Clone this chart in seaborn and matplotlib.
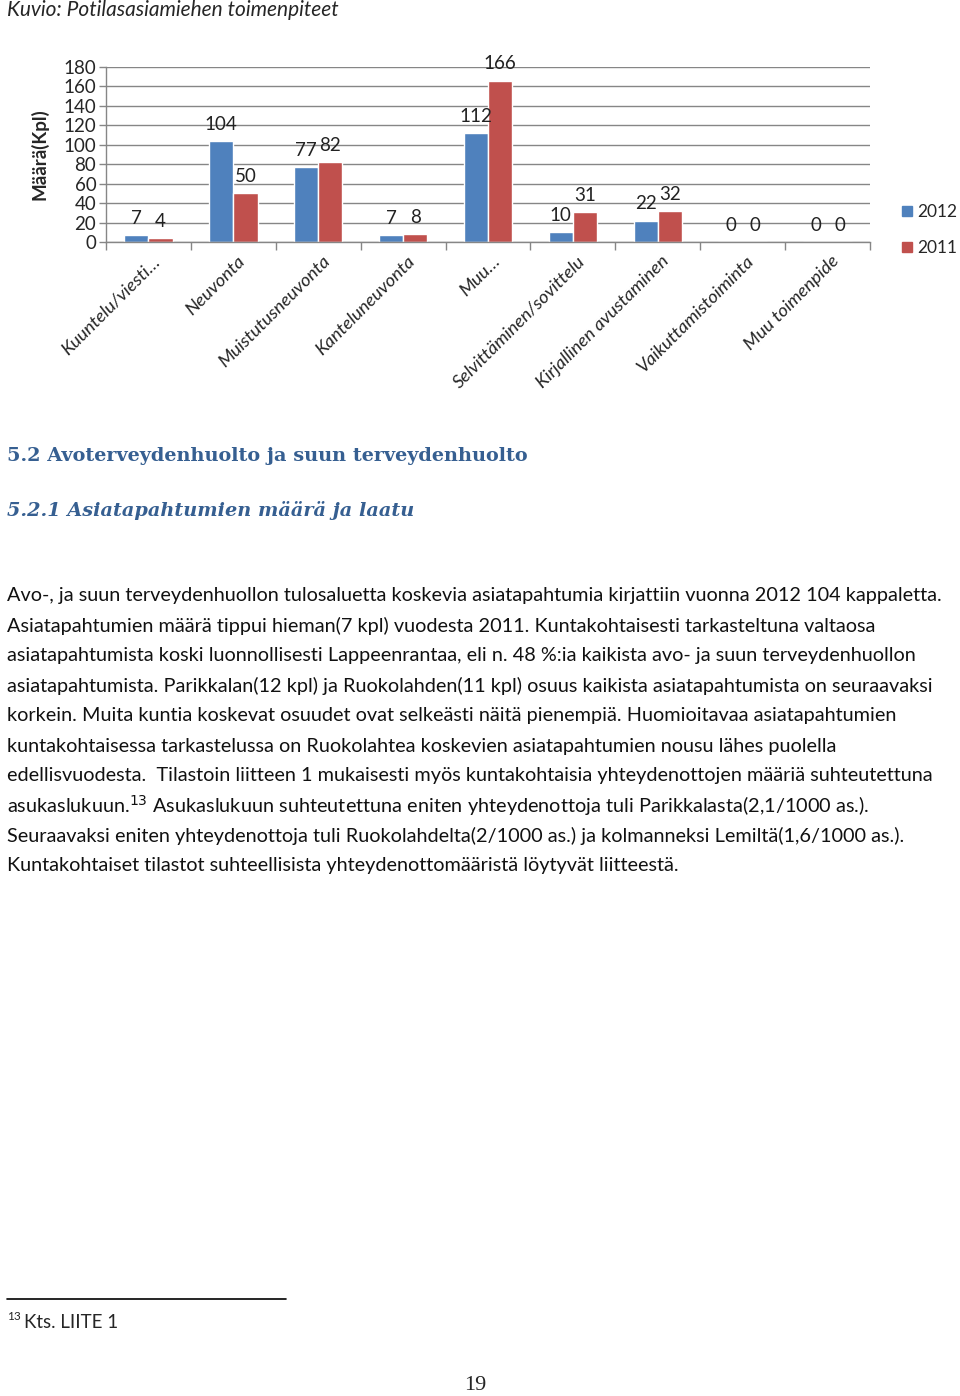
import pandas as pd
import seaborn as sns
import matplotlib.pyplot as plt
import matplotlib.transforms as mtransforms
from matplotlib.lines import Line2D

sns.set_style('white')
plt.rcParams['font.family'] = ['Lato', 'DejaVu Sans']

#%% data

kategoriat = ['Kuuntelu/viesti…', 'Neuvonta', 'Muistutusneuvonta', 'Kanteluneuvonta',
              'Muu…', 'Selvittäminen/sovittelu', 'Kirjallinen avustaminen',
              'Vaikuttamistoiminta', 'Muu toimenpide']
v2012 = [7, 104, 77, 7, 112, 10, 22, 0, 0]
v2011 = [4, 50, 82, 8, 166, 31, 32, 0, 0]
vuodet = ['2012', '2011']
y_ticks = [0, 20, 40, 60, 80, 100, 120, 140, 160, 180]

df = pd.DataFrame({'kategoria': kategoriat * 2,
                   'vuosi': [vuodet[0]] * len(v2012) + [vuodet[1]] * len(v2011),
                   'maara': v2012 + v2011})

W, H = 960, 1396
fig = plt.figure(figsize=(W / 100, H / 100), dpi=100)

def fy(y):
    return 1 - y / H

def fx(x):
    return x / W

#%% chart
ax = fig.add_axes([fx(106), fy(242), fx(870) - fx(106), fy(67) - fy(242)])
sns.barplot(data=df, x='kategoria', y='maara', hue='vuosi',
            palette=['#4F81BD', '#C0504D'], saturation=1, width=0.57,
            ax=ax, legend=False)

for cont in ax.containers:
    ax.bar_label(cont, padding=6, fontsize=13.5, color='#222222')

ax.set_ylim(0, 180)
ax.set_xlim(-0.5, len(kategoriat) - 0.5)
ax.set_yticks(y_ticks)
ax.tick_params(axis='y', labelsize=13.5, length=5, width=1, color='#868686',
               pad=2, direction='out', left=True)
ax.yaxis.grid(True, color='#868686', lw=1)
ax.set_axisbelow(True)
for s in ['top', 'right']:
    ax.spines[s].set_visible(False)
for s in ['left', 'bottom']:
    ax.spines[s].set_color('#868686')
    ax.spines[s].set_linewidth(1)

# category boundary ticks
ax.set_xticks([i - 0.5 for i in range(len(kategoriat) + 1)], minor=True)
ax.tick_params(axis='x', which='minor', length=6, color='#868686', width=1, bottom=True)
ax.tick_params(axis='x', which='major', length=0, pad=12)
ax.set_xticks(range(len(kategoriat)))
ax.set_xticklabels(kategoriat, rotation=45, ha='right', va='center',
                   rotation_mode='anchor', fontsize=13.3, style='italic')
offset = mtransforms.ScaledTranslation(9 / 100, 0, fig.dpi_scale_trans)
for lbl in ax.get_xticklabels():
    lbl.set_transform(lbl.get_transform() + offset)

ax.set_xlabel('')
ax.set_ylabel('Määrä(Kpl)', fontsize=13.5, fontweight='bold')
ax.yaxis.set_label_coords(-0.075, 0.5)

handles = [Line2D([], [], marker='s', ls='', markersize=7.5, color=c)
           for c in ['#4F81BD', '#C0504D']]
fig.legend(handles, vuodet, loc='center left', bbox_to_anchor=(fx(898), fy(230)),
           frameon=False, fontsize=12.5, handletextpad=0.1, labelspacing=1.15,
           borderpad=0, handlelength=1.0, borderaxespad=0)

#%% page text
fig.text(fx(7), fy(10), 'Kuvio: Potilasasiamiehen toimenpiteet', fontsize=15,
         style='italic', va='center', ha='left')

blue = '#365F91'
fig.text(fx(7), fy(456), '5.2 Avoterveydenhuolto ja suun terveydenhuolto',
         family='DejaVu Serif', fontweight='bold', fontsize=13.9, color=blue,
         va='center', ha='left')
fig.text(fx(7), fy(511), '5.2.1 Asiatapahtumien määrä ja laatu',
         family='DejaVu Serif', fontweight='bold', style='italic', fontsize=13.9,
         color=blue, va='center', ha='left')

rivit = [
    'Avo-, ja suun terveydenhuollon tulosaluetta koskevia asiatapahtumia kirjattiin vuonna 2012 104 kappaletta.',
    'Asiatapahtumien määrä tippui hieman(7 kpl) vuodesta 2011. Kuntakohtaisesti tarkasteltuna valtaosa',
    'asiatapahtumista koski luonnollisesti Lappeenrantaa, eli n. 48 %:ia kaikista avo- ja suun terveydenhuollon',
    'asiatapahtumista. Parikkalan(12 kpl) ja Ruokolahden(11 kpl) osuus kaikista asiatapahtumista on seuraavaksi',
    'korkein. Muita kuntia koskevat osuudet ovat selkeästi näitä pienempiä. Huomioitavaa asiatapahtumien',
    'kuntakohtaisessa tarkastelussa on Ruokolahtea koskevien asiatapahtumien nousu lähes puolella',
    'edellisvuodesta.  Tilastoin liitteen 1 mukaisesti myös kuntakohtaisia yhteydenottojen määriä suhteutettuna',
    'asukaslukuun.$^{13}$ Asukaslukuun suhteutettuna eniten yhteydenottoja tuli Parikkalasta(2,1/1000 as.).',
    'Seuraavaksi eniten yhteydenottoja tuli Ruokolahdelta(2/1000 as.) ja kolmanneksi Lemiltä(1,6/1000 as.).',
    'Kuntakohtaiset tilastot suhteellisista yhteydenottomääristä löytyvät liitteestä.',
]
for i, r in enumerate(rivit):
    fig.text(fx(7), fy(596 + 30 * i), r, fontsize=14.3, va='center', ha='left',
             color='#111111')

fig.add_artist(Line2D([fx(7), fx(286)], [fy(1299), fy(1299)], color='black', lw=1.2))
fig.text(fx(7), fy(1316), '13', fontsize=8.5, va='center', ha='left')
fig.text(fx(24), fy(1322), 'Kts. LIITE 1', fontsize=13.5, va='center', ha='left')
fig.text(fx(475), fy(1385), '19', family='Liberation Serif', fontsize=16,
         va='center', ha='center')

fig.savefig('out.png', dpi=100)
